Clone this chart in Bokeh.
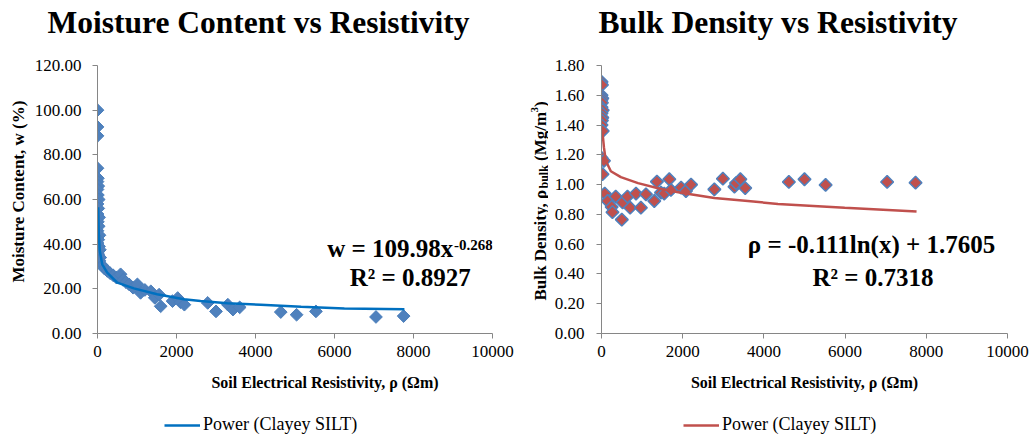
import math
from bokeh.plotting import figure
from bokeh.layouts import row, column
from bokeh.models import (FixedTicker, NumeralTickFormatter, Label, Legend, LegendItem,
                          Range1d, ColumnDataSource)
from bokeh.embed import file_html
from bokeh.resources import INLINE

# ---------------- data ----------------
# Moisture content vs resistivity
mc_resistivity = [0, 0, 0, 0, 10, 0, 20, 0, 10, 30, 0, 20, 0, 40, 10, 30, 0, 50, 20, 0,
                  40, 60, 10, 30, 70, 0, 50,
                  120, 180, 250, 320, 400, 480, 585, 650, 720, 800, 900, 1010, 1090, 1200,
                  1350, 1450, 1560, 1600, 1900, 2030, 2100, 2200, 2790, 3000, 3300, 3430,
                  3600, 4640, 5040, 5530, 7050, 7750]
mc_moisture = [100, 92.5, 88.5, 74, 69.5, 68, 66, 64.5, 62, 60, 58, 56, 53.5, 52, 50, 48, 46,
               44, 42, 40.5, 39, 37.5, 36, 35, 34, 33, 32.5,
               30.5, 29, 28, 27, 26, 25, 26.5, 24, 23, 22, 20.5, 22, 18.2, 19.5,
               18.9, 16, 17.4, 12.2, 14.5, 15.9, 14, 12.9, 13.7, 9.9, 12.9, 10.7,
               11.7, 9.6, 8.4, 9.9, 7.4, 7.8]
# trend line "Power (Clayey SILT)" as drawn
mc_trend_x = [18, 33, 58, 120, 245, 500, 920, 1510, 2185, 2610, 3290, 4135, 5155, 6250, 7770]
mc_trend_y = [56.5, 44.6, 37, 31, 27.3, 22.8, 20.2, 17.6, 15.3, 14.5, 13.5, 12.9, 12.0, 11.2, 10.9]

# Bulk density vs resistivity
bd_resistivity = [0, 10, 0, 20, 0, 10, 0, 30, 0, 20, 10, 0, 30, 0, 60, 25,
                  80, 150, 250, 270, 350, 520, 500, 640, 705, 850, 970, 1095, 1300, 1365,
                  1465, 1545, 1670, 1710, 1960, 2080, 2205, 2780, 2990, 3275, 3315, 3420,
                  3540, 4615, 5000, 5520, 7035, 7735]
bd_density = [1.69, 1.67, 1.60, 1.58, 1.57, 1.55, 1.52, 1.50, 1.48, 1.45, 1.43, 1.40, 1.36,
              1.18, 1.16, 1.07,
              0.94, 0.89, 0.85, 0.815, 0.92, 0.88, 0.765, 0.92, 0.845, 0.94, 0.845, 0.935,
              0.89, 1.02, 0.946, 0.94, 1.036, 0.964, 0.98, 0.957, 1.0, 0.968, 1.04, 0.986,
              1.01, 1.036, 0.977, 1.018, 1.036, 0.998, 1.018, 1.013]
bd_trend_x = [25, 60, 106, 230, 477, 900, 1464, 1958, 2780, 3605, 4346, 5990, 7760]
bd_trend_y = [1.35, 1.25, 1.16, 1.09, 1.05, 1.01, 0.97, 0.945, 0.91, 0.89, 0.87, 0.845, 0.82]

x_ticks = [0, 2000, 4000, 6000, 8000, 10000]
mc_ticks = [0, 20, 40, 60, 80, 100, 120]
bd_ticks = [0, 0.2, 0.4, 0.6, 0.8, 1.0, 1.2, 1.4, 1.6, 1.8]

SERIF = "Liberation Serif"
AXIS = "#868686"
H1 = 405      # chart row height
H2 = 32       # legend row height
TOP = 45      # top border (title); plot area starts 20px lower (axis bounds)
NB = "\u00a0"


def make_fig(title, width, y_max, y_ticks, mb_left, mb_right, title_offset, title_size):
    # the frame reaches 20px above the top tick; the y axis is bounded to the data axis range
    px_per_unit = 268.0 / y_max
    p = figure(width=width, height=H1, output_backend="svg", toolbar_location=None,
               x_range=Range1d(0, 10000), y_range=Range1d(0, y_max + 20.0 / px_per_unit),
               min_border_left=mb_left, min_border_right=mb_right,
               min_border_top=TOP, min_border_bottom=72)
    p.outline_line_color = None
    p.grid.visible = False
    p.title.text = title
    p.title.align = "left"
    p.title.offset = title_offset
    p.title.vertical_align = "top"
    p.title.standoff = 8
    p.title.text_font = SERIF
    p.title.text_font_size = title_size
    p.title.text_font_style = "bold"
    p.title.text_color = "black"
    for ax in (p.xaxis[0], p.yaxis[0]):
        ax.axis_line_color = AXIS
        ax.major_tick_line_color = AXIS
        ax.major_tick_out = 5
        ax.major_tick_in = 0
        ax.minor_tick_line_color = None
        ax.major_label_text_font = SERIF
        ax.major_label_text_font_size = "17px"
        ax.major_label_text_color = "black"
        ax.axis_label_text_font = SERIF
        ax.axis_label_text_font_style = "bold"
        ax.axis_label_text_color = "black"
    p.yaxis.bounds = (0, y_max)
    p.xaxis.ticker = FixedTicker(ticks=x_ticks)
    p.yaxis.ticker = FixedTicker(ticks=y_ticks)
    p.yaxis.formatter = NumeralTickFormatter(format="0.00")
    p.xaxis.major_label_standoff = 7
    p.xaxis.axis_label_text_font_size = "16px"
    p.xaxis.axis_label_standoff = 14
    return p


def lbl(p, text, x, y, size, align="left", angle=0.0, bold=True):
    p.add_layout(Label(x=x, y=y, x_units="screen", y_units="screen", text=text,
                       text_font=SERIF, text_font_size=size,
                       text_font_style="bold" if bold else "normal",
                       text_color="black", text_align=align, text_baseline="alphabetic",
                       angle=angle))


def blank_fig(width, height):
    f = figure(width=width, height=height, output_backend="svg", toolbar_location=None,
               x_range=Range1d(0, 1), y_range=Range1d(0, 1),
               x_axis_type=None, y_axis_type=None,
               min_border_left=0, min_border_right=0, min_border_top=0, min_border_bottom=0)
    f.outline_line_color = None
    f.grid.visible = False
    return f


def legend_fig(width, x0, color, tx, ty):
    f = blank_fig(width, H2)
    # same trend series; it lies outside this strip's ranges, only its legend entry shows
    r = f.line(tx, ty, line_color=color, line_width=2.5)
    leg = Legend(items=[LegendItem(label="Power (Clayey SILT)", renderers=[r])],
                 location=(x0, 2), orientation="horizontal",
                 glyph_width=36, glyph_height=16, label_height=16, label_standoff=3,
                 padding=0, margin=0, border_line_color=None, background_fill_alpha=0,
                 label_text_font=SERIF, label_text_font_size="18px",
                 label_text_color="black")
    f.add_layout(leg)
    return f


# ---------------- left chart ----------------
p1 = make_fig("Moisture Content  vs Resistivity", 518, 120, mc_ticks, 97, 26, -50, "31.5px")
p1.yaxis.major_label_standoff = 11
p1.yaxis.axis_label = "Moisture Content,  w (%)"
p1.yaxis.axis_label_text_font_size = "17px"
p1.yaxis.axis_label_standoff = 4
p1.xaxis.axis_label = NB * 15 + "Soil Electrical Resistivity, ρ (Ωm)"

src1 = ColumnDataSource(dict(x=mc_resistivity, y=mc_moisture))
p1.scatter("x", "y", source=src1, marker="square", angle=math.pi / 4, size=9,
           fill_color="#4F81BD", line_color="#4A7EBB", line_width=1)
p1.line(mc_trend_x, mc_trend_y, line_color="#0070C0", line_width=2.5)

lbl(p1, "w = 109.98x", 355.7, 85, "25px", align="right")
lbl(p1, "-0.268", 356.5, 89, "15px")
lbl(p1, "R² = 0.8927", 312.7, 56, "25px", align="center")

# ---------------- right y-axis title strip ----------------
ylab = blank_fig(30, H1)
A = math.pi / 2
BX = 22
y0 = 33
lbl(ylab, "Bulk Density, ρ", BX, y0, "17px", angle=A)
y1 = y0 + 112
lbl(ylab, "bulk", BX + 3, y1, "12px", angle=A)
y2 = y1 + 23.4 + 4.2
lbl(ylab, "(Mg/m", BX, y2, "17px", angle=A)
y3 = y2 + 48.5
lbl(ylab, "3", BX - 6, y3, "11px", angle=A)
lbl(ylab, ")", BX, y3 + 5.5, "17px", angle=A)

# ---------------- right chart ----------------
p2 = make_fig("Bulk Density  vs Resistivity", 483, 1.8, bd_ticks, 53, 24, -3, "31.6px")
p2.yaxis.major_label_standoff = 12
p2.xaxis.axis_label = "Soil Electrical Resistivity, ρ (Ωm)"

src2 = ColumnDataSource(dict(x=bd_resistivity, y=bd_density))
p2.scatter("x", "y", source=src2, marker="square", angle=math.pi / 4, size=9,
           fill_color="#C0504D", line_color="#4F81BD", line_width=1.5)
p2.line(bd_trend_x, bd_trend_y, line_color="#C0504D", line_width=2.5)

lbl(p2, "ρ = -0.111ln(x) + 1.7605", 270, 89, "25px", align="center")
lbl(p2, "R² = 0.7318", 271.5, 56, "25px", align="center")

# ---------------- legends ----------------
leg_left = legend_fig(518, 164, "#0070C0", mc_trend_x, mc_trend_y)
leg_right = legend_fig(513, 165, "#C0504D", bd_trend_x, bd_trend_y)

layout = column(row(p1, ylab, p2), row(leg_left, leg_right))
open("out.html", "w").write(file_html(layout, INLINE))
